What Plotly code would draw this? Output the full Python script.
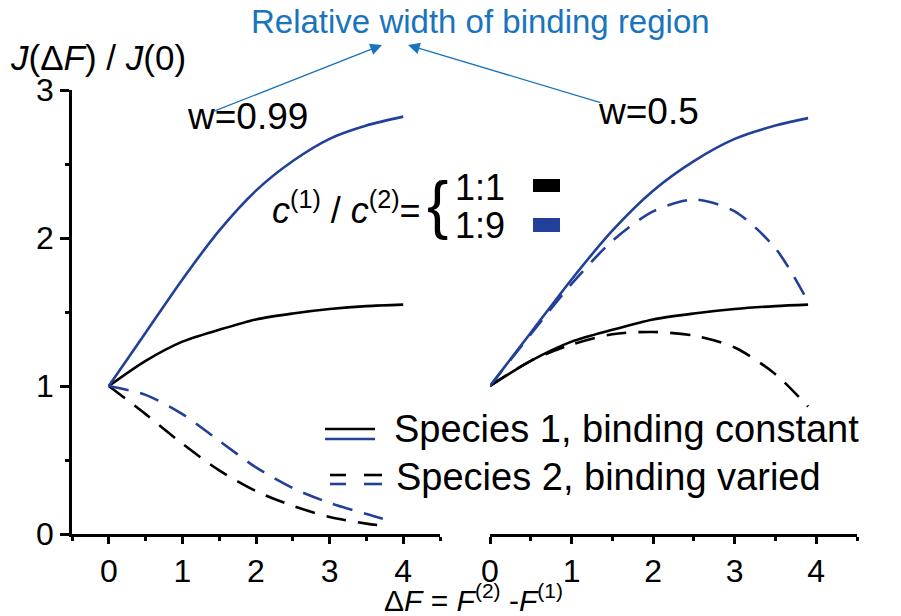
import plotly.graph_objects as go

# ---------------- data ----------------
x_s1 = [0, 0.5, 1, 1.5, 2, 2.5, 3, 3.5, 4]
x_s2_left = [0, 0.5, 1, 1.5, 2, 2.5, 3, 3.5, 3.75]
x_right = [0, 0.5, 1, 1.5, 2, 2.5, 3, 3.5, 3.9]

# w = 0.99 (left panel)
left_s1_11 = [1, 1.17, 1.30, 1.38, 1.45, 1.49, 1.52, 1.54, 1.55]
left_s1_19 = [1, 1.36, 1.72, 2.05, 2.32, 2.52, 2.67, 2.76, 2.82]
left_s2_11 = [1, 0.81, 0.61, 0.43, 0.29, 0.19, 0.115, 0.07, 0.055]
left_s2_19 = [1, 0.94, 0.81, 0.63, 0.45, 0.31, 0.21, 0.135, 0.10]

# w = 0.5 (right panel)
right_s1_11 = [1, 1.17, 1.30, 1.38, 1.45, 1.49, 1.52, 1.54, 1.55]
right_s1_19 = [1, 1.36, 1.72, 2.05, 2.32, 2.52, 2.67, 2.76, 2.81]
right_s2_11 = [1, 1.17, 1.28, 1.35, 1.365, 1.34, 1.26, 1.08, 0.86]
right_s2_19 = [1, 1.35, 1.69, 1.98, 2.18, 2.26, 2.18, 1.93, 1.57]

x_ticks = [0, 1, 2, 3, 4]
y_ticks = [0, 1, 2, 3]

# ---------------- styling ----------------
W, H = 901, 616
BLACK = "#000000"
BLUE = "#22409a"
ANN_BLUE = "#1a74bd"
FONT = "Liberation Sans, Arial, sans-serif"
LW = 2.6
DASH = "20px,12px"


def px(x):
    return x / W


def py(y):
    return 1 - y / H


fig = go.Figure()


def add(x, y, color, dash, xa, ya):
    fig.add_trace(go.Scatter(
        x=x, y=y, mode="lines", xaxis=xa, yaxis=ya,
        line=dict(color=color, width=LW, dash=dash, shape="spline", smoothing=0.8),
        showlegend=False, hoverinfo="skip"))


add(x_s1, left_s1_11, BLACK, "solid", "x", "y")
add(x_s1, left_s1_19, BLUE, "solid", "x", "y")
add(x_s2_left, left_s2_11, BLACK, DASH, "x", "y")
add(x_s2_left, left_s2_19, BLUE, DASH, "x", "y")

add(x_right, right_s1_11, BLACK, "solid", "x2", "y2")
add(x_right, right_s1_19, BLUE, "solid", "x2", "y2")
add(x_right, right_s2_11, BLACK, DASH, "x2", "y2")
add(x_right, right_s2_19, BLUE, DASH, "x2", "y2")

ydom = [py(534), py(90)]
tickfont = dict(family=FONT, size=32, color=BLACK)

xcommon = dict(showline=True, linecolor=BLACK, linewidth=LW, ticks="outside",
               ticklen=7, tickwidth=LW, tickcolor=BLACK, tickvals=x_ticks,
               showgrid=False, zeroline=False, tickfont=tickfont, automargin=False,
               minor=dict(dtick=0.5, tick0=0, ticks="outside", ticklen=4,
                          tickwidth=LW, tickcolor=BLACK, showgrid=False))

fig.update_layout(
    template="none",
    width=W, height=H,
    margin=dict(l=0, r=0, t=0, b=0, pad=0),
    paper_bgcolor="white", plot_bgcolor="white",
    font=dict(family=FONT, color=BLACK),
    xaxis=dict(domain=[px(72), px(440)], range=[-0.5, 4.5], anchor="y", **xcommon),
    yaxis=dict(domain=ydom, range=[0, 3], anchor="x", showline=True, linecolor=BLACK,
               linewidth=LW, ticks="outside", ticklen=9, tickwidth=LW, tickcolor=BLACK,
               tickvals=y_ticks, showgrid=False, zeroline=False, tickfont=tickfont,
               automargin=False,
               minor=dict(dtick=0.5, tick0=0, ticks="outside", ticklen=4,
                          tickwidth=LW, tickcolor=BLACK, showgrid=False)),
    xaxis2=dict(domain=[px(490), px(857)], range=[0, 4.5], anchor="y2", **xcommon),
    yaxis2=dict(domain=ydom, range=[0, 3], anchor="x2", visible=False, automargin=False),
)

annotations = []


def text(t, x, y, size, color=BLACK, xanchor="left"):
    annotations.append(dict(text=t, x=px(x), y=py(y), xref="paper", yref="paper",
                            xanchor=xanchor, yanchor="middle", showarrow=False,
                            font=dict(family=FONT, size=size, color=color)))


text("Relative width of binding region", 481, 22, 33, ANN_BLUE, "center")
text("<i>J</i>(Δ<i>F</i>) / <i>J</i>(0)", 8, 57, 35)
text("w=0.99", 185, 116, 37)
text("w=0.5", 596, 111, 37)
text("<i>c</i><sup>(1)</sup> / <i>c</i><sup>(2)</sup>=", 423, 208, 36, BLACK, "right")
text("{", 437, 205, 64, BLACK, "center")
text("1:1", 453, 187, 36)
text("1:9", 453, 225, 36)
text("Species 1, binding constant", 392, 429, 38)
text("Species 2, binding varied", 394, 477, 38)
text("Δ<i>F</i> = <i>F</i><sup>(2)</sup> -<i>F</i><sup>(1)</sup>", 474, 598, 30, BLACK, "center")

# arrows from the w labels to the heading
for hx, hy, tx, ty in [(382, 45, 212, 112), (408, 45, 602, 103)]:
    annotations.append(dict(x=px(hx), y=py(hy), xref="paper", yref="paper", text="",
                            showarrow=True, ax=tx - hx, ay=ty - hy, axref="pixel", ayref="pixel",
                            arrowhead=2, arrowsize=1.8, arrowwidth=1.3, arrowcolor=ANN_BLUE,
                            standoff=0, startstandoff=0))

fig.update_layout(annotations=annotations)

shapes = []
# colour keys for concentration ratio
shapes.append(dict(type="rect", xref="paper", yref="paper", x0=px(533), x1=px(560),
                   y0=py(192), y1=py(179), fillcolor=BLACK, line=dict(width=0)))
shapes.append(dict(type="rect", xref="paper", yref="paper", x0=px(533), x1=px(560),
                   y0=py(232), y1=py(218), fillcolor=BLUE, line=dict(width=0)))
# line-style keys
for yy, col in [(429, BLACK), (439, BLUE)]:
    shapes.append(dict(type="line", xref="paper", yref="paper", x0=px(325), x1=px(375),
                       y0=py(yy), y1=py(yy), line=dict(color=col, width=LW)))
for yy, col in [(475, BLACK), (484, BLUE)]:
    for a, b in [(330, 346), (364, 382)]:
        shapes.append(dict(type="line", xref="paper", yref="paper", x0=px(a), x1=px(b),
                           y0=py(yy), y1=py(yy), line=dict(color=col, width=LW)))
fig.update_layout(shapes=shapes)

fig.write_html("out.html", config={"displayModeBar": False},
               post_script="document.body.style.margin='0';document.body.style.overflow='hidden';")
